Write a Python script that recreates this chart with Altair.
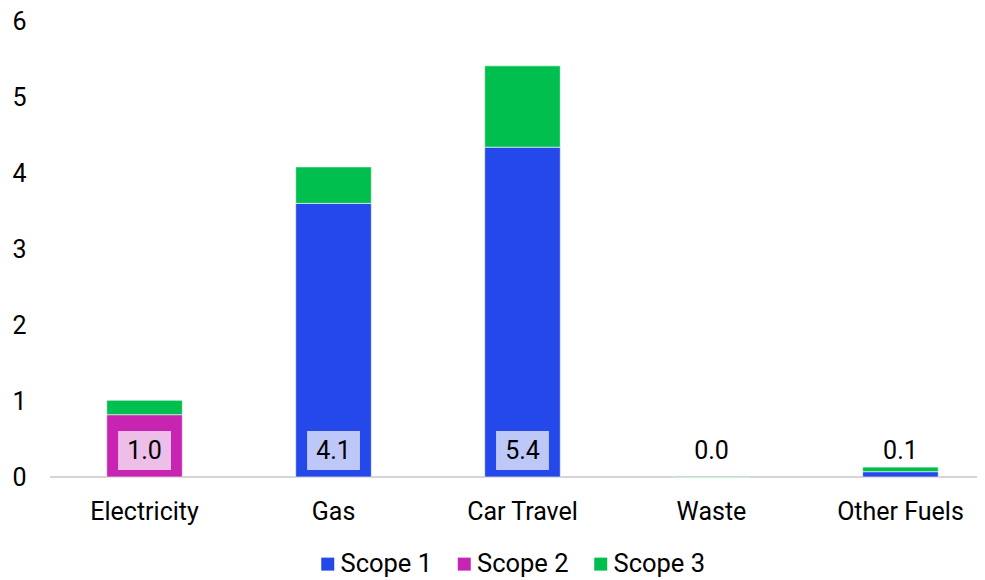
import altair as alt
import pandas as pd

categories = ["Electricity", "Gas", "Car Travel", "Waste", "Other Fuels"]
scopes = ["Scope 1", "Scope 2", "Scope 3"]
scope1 = [0.0, 3.60, 4.34, 0.0, 0.07]
scope2 = [0.82, 0.0, 0.0, 0.0, 0.0]
scope3 = [0.19, 0.48, 1.07, 0.01, 0.06]
y_ticks = [0, 1, 2, 3, 4, 5, 6]

colors = ["#2548EB", "#C724B1", "#00BF4F"]
box_colors = ["#BDC8F9", "#EDBEE7", "#B3ECCA"]
FONT = "Roboto"

series = [scope1, scope2, scope3]
rows = []
for i, c in enumerate(categories):
    for k, s in enumerate(scopes):
        v = series[k][i]
        if v > 0:
            rows.append({"category": c, "scope": s, "value": v, "order": k})
df = pd.DataFrame(rows)

totals = []
for i, c in enumerate(categories):
    vals = [series[k][i] for k in range(3)]
    base = next(scopes[k] for k in range(3) if vals[k] > 0)
    totals.append({"category": c, "total": sum(vals), "base": base})
tdf = pd.DataFrame(totals)

W, H = 909, 456
xscale = alt.Scale(type="band", paddingInner=0.6, paddingOuter=0.205)

xenc = alt.X(
    "category:N",
    sort=categories,
    scale=xscale,
    axis=alt.Axis(
        title=None, labelAngle=0, labelFontSize=25, labelColor="black", labelFont=FONT,
        ticks=False, tickSize=0, domain=False, labelPadding=22, grid=False,
    ),
)

# category axis line (starts a little left of the first slot, as in the reference)
baseline = alt.Chart(tdf).mark_rule(color="#D4D4D4", strokeWidth=1.5).encode(
    x=alt.value(-18), x2=alt.value(W), y=alt.value(H)
)

bars = alt.Chart(df).mark_bar(stroke="white", strokeWidth=0.6).encode(
    x=xenc,
    y=alt.Y(
        "value:Q",
        stack="zero",
        scale=alt.Scale(domain=[0, 6], nice=False),
        axis=alt.Axis(
            title=None, values=y_ticks, labelFontSize=25, labelColor="black", labelFont=FONT,
            ticks=False, tickSize=0, domain=False, grid=False, labelPadding=42,
        ),
    ),
    color=alt.Color(
        "scope:N",
        scale=alt.Scale(domain=scopes, range=colors),
        legend=alt.Legend(
            title=None, orient="none", direction="horizontal", legendX=247, legendY=530,
            symbolType="square", symbolSize=169, symbolStrokeWidth=0, symbolOpacity=1,
            labelFontSize=25.5, labelFont=FONT, labelColor="black", labelOffset=0,
            columnPadding=18.5, padding=0,
        ),
    ),
    order=alt.Order("order:Q"),
)

boxes = alt.Chart(tdf).transform_filter("datum.total >= 0.5").mark_bar(
    width=alt.RelativeBandSize(band=0.7)
).encode(
    x=alt.X("category:N", sort=categories, scale=xscale),
    y=alt.value(410),
    y2=alt.value(449),
    fill=alt.Fill("base:N", scale=alt.Scale(domain=scopes, range=box_colors), legend=None),
)

labels = alt.Chart(tdf).mark_text(font=FONT, fontSize=25, baseline="middle", color="black").encode(
    x=alt.X("category:N", sort=categories, scale=xscale),
    y=alt.value(430),
    text=alt.Text("total:Q", format=".1f"),
)

chart = (
    alt.layer(baseline, bars, boxes, labels)
    .properties(
        width=W, height=H,
        autosize=alt.AutoSizeParams(type="none"),
        padding={"left": 60, "top": 13, "right": 0, "bottom": 103},
    )
    .configure(font=FONT)
    .configure_view(strokeWidth=0, stroke=None)
)

chart.save("out.html", embed_options={"renderer": "svg", "actions": False})
